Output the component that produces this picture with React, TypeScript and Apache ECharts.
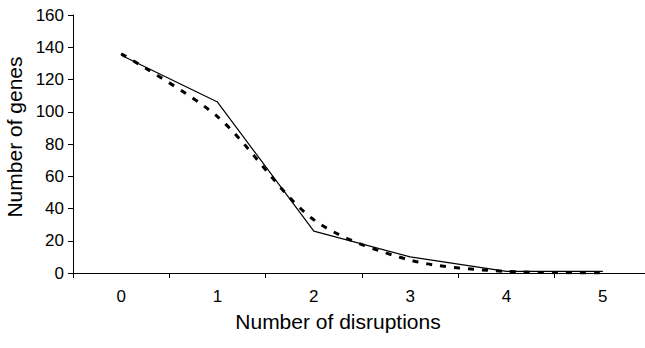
import React, { useEffect, useRef } from "react";
import * as echarts from "echarts";

const categories = ["0", "1", "2", "3", "4", "5"];
const solidSeries = [135, 106, 26, 10, 1, 1];
const dashedSeries = [136, 97, 33, 8, 1, 0];
const yTicks = { min: 0, max: 160, interval: 20 };

export default function App() {
  const ref = useRef<HTMLDivElement>(null);
  useEffect(() => {
    if (!ref.current) return;
    const chart = echarts.init(ref.current, null, { renderer: "svg" });
    const font = "Liberation Sans, Arial, sans-serif";
    chart.setOption({
      animation: false,
      backgroundColor: "#ffffff",
      grid: {
        left: 73,
        right: -6,
        top: 15,
        bottom: 75,
        containLabel: false,
        outerBoundsMode: "none",
      },
      xAxis: {
        type: "category",
        data: categories,
        boundaryGap: true,
        axisLine: { lineStyle: { color: "#000", width: 1 } },
        axisTick: { show: true, length: 5, lineStyle: { color: "#000" } },
        axisLabel: { color: "#000", fontSize: 17, fontFamily: font, margin: 15 },
        splitLine: { show: false },
      },
      yAxis: {
        type: "value",
        min: yTicks.min,
        max: yTicks.max,
        interval: yTicks.interval,
        name: "Number of genes",
        nameLocation: "middle",
        nameGap: 40,
        nameRotate: 90,
        nameTextStyle: { color: "#000", fontSize: 21, fontFamily: font, padding: [0, 0, 0, 14] },
        axisLine: { show: true, lineStyle: { color: "#000", width: 1 } },
        axisTick: { show: true, length: 5, lineStyle: { color: "#000" } },
        axisLabel: { color: "#000", fontSize: 17, fontFamily: font, margin: 9 },
        splitLine: { show: false },
      },
      graphic: [
        {
          type: "text",
          x: 338,
          y: 321,
          style: {
            text: "Number of disruptions",
            fill: "#000",
            fontSize: 21,
            fontFamily: font,
            align: "center",
            verticalAlign: "middle",
          },
        },
      ],
      series: [
        {
          type: "line",
          data: solidSeries,
          symbol: "none",
          lineStyle: { color: "#000", width: 1.2, type: "solid" },
        },
        {
          type: "line",
          data: dashedSeries,
          symbol: "none",
          smooth: 0.3,
          lineStyle: { color: "#000", width: 3, type: [6, 8] },
        },
      ],
    });
    return () => chart.dispose();
  }, []);
  return (
    <div
      ref={ref}
      style={{ position: "absolute", left: 0, top: 0, width: 645, height: 348 }}
    />
  );
}
